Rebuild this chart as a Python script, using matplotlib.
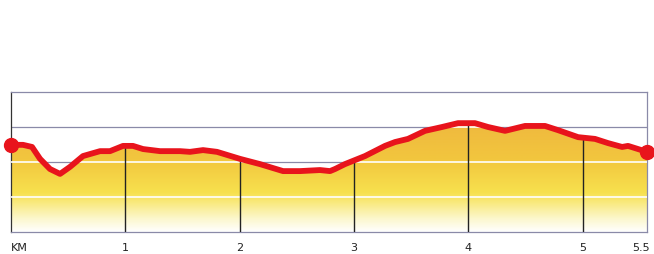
import numpy as np
import matplotlib
matplotlib.use("Agg")
import matplotlib.pyplot as plt
from matplotlib.colors import LinearSegmentedColormap

# distance (km) and relative elevation (grid units)
km = [0.000, 0.105, 0.184, 0.254, 0.341, 0.429, 0.516, 0.630, 0.779, 0.866,
      0.980, 1.067, 1.155, 1.304, 1.479, 1.566, 1.680, 1.802, 2.003, 2.178,
      2.380, 2.528, 2.703, 2.791, 2.835, 2.922, 3.097, 3.272, 3.360, 3.473,
      3.622, 3.771, 3.911, 4.059, 4.173, 4.322, 4.497, 4.672, 4.786, 4.961,
      5.109, 5.223, 5.346, 5.398, 5.564]
elev = [2.49, 2.49, 2.43, 2.09, 1.80, 1.66, 1.86, 2.17, 2.31, 2.31,
        2.46, 2.46, 2.37, 2.31, 2.31, 2.29, 2.34, 2.29, 2.09, 1.94,
        1.74, 1.74, 1.77, 1.74, 1.80, 1.94, 2.17, 2.46, 2.57, 2.66,
        2.89, 3.00, 3.11, 3.11, 3.00, 2.89, 3.03, 3.03, 2.91, 2.71,
        2.66, 2.54, 2.43, 2.46, 2.29]
tick_pos = [0, 1, 2, 3, 4, 5]
tick_labels = ["KM", "1", "2", "3", "4", "5"]
end_label = "5.5"
grid_levels = [1, 2, 3]
km_lines = [1, 2, 3, 4, 5]

fig = plt.figure(figsize=(6.54, 2.55), dpi=100)
ax = fig.add_axes([11/654, 22/255, 636/654, 140/255])
xmax = km[-1]
ax.set_xlim(0, xmax)
ax.set_ylim(0, 4)

# grid lines above the profile
for g in grid_levels:
    ax.axhline(g, color="#8a8aa8", lw=0.9, zorder=1)

# gradient fill under profile
x = np.array(km); y = np.array(elev)
poly = ax.fill_between(x, 0, y, facecolor="none", edgecolor="none", zorder=2)
cmap = LinearSegmentedColormap.from_list(
    "prof", [(0.0, "#ffffff"), (0.12, "#fcf7cc"), (0.35, "#f7e14e"),
             (0.65, "#f2c63e"), (1.0, "#efb83e")])
grad = np.linspace(0, 1, 256).reshape(-1, 1)
im = ax.imshow(grad, extent=[0, xmax, 0, 3.2], origin="lower", aspect="auto",
               cmap=cmap, zorder=2)
path = poly.get_paths()[0]
im.set_clip_path(path, transform=ax.transData)

# white grid lines inside the fill
for g in grid_levels:
    l, = ax.plot([0, xmax], [g, g], color="white", lw=1.2, zorder=3)
    l.set_clip_path(path, transform=ax.transData)

# km marker lines below the profile
for k in km_lines:
    yk = np.interp(k, x, y)
    ax.plot([k, k], [0, yk], color="#222222", lw=1.0, zorder=4)

# profile line
ax.plot(x, y, color="#e8141c", lw=4.2, solid_capstyle="round",
        solid_joinstyle="round", zorder=5)
ax.plot([x[0], x[-1]], [y[0], y[-1]], "o", color="#e8141c", ms=10, zorder=6,
        clip_on=False)

for s in ax.spines.values():
    s.set_color("#8a8aa8")
    s.set_linewidth(0.9)
ax.spines["left"].set_color("#333333")

ax.set_xticks(tick_pos)
ax.set_xticklabels(tick_labels, fontsize=8, color="#222222")
ax.get_xticklabels()[0].set_horizontalalignment("left")
ax.tick_params(axis="x", length=0, pad=7)
ax.set_yticks([])

ax.annotate(end_label, xy=(xmax, 0), xycoords=("data", "axes fraction"),
            xytext=(-4, -7), textcoords="offset points", ha="center", va="top",
            fontsize=8, color="#222222", annotation_clip=False)

fig.savefig("out.png", dpi=100)
